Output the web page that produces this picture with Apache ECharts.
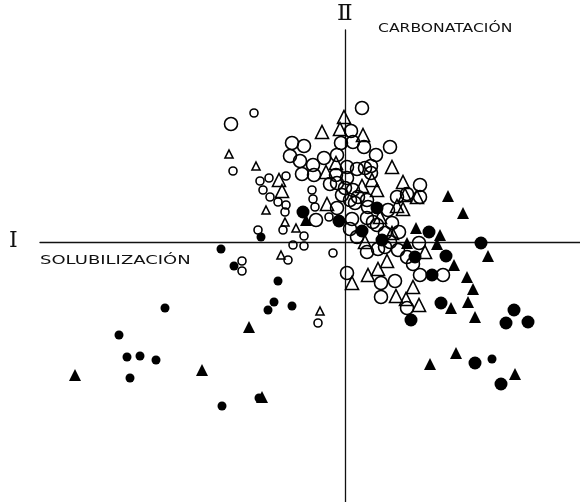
<!DOCTYPE html>
<html>
<head>
<meta charset="utf-8">
<script src="https://cdn.jsdelivr.net/npm/echarts@6/dist/echarts.min.js"></script>
<style>
  html, body { margin: 0; padding: 0; background: #fff; }
  #chart { width: 580px; height: 502px; }
</style>
</head>
<body>
<div id="chart"></div>
<script>
// factor scores, axis I (x) vs axis II (y)
var openCircleLarge = [
  [-114,118],[-53,99],[-41,96],[-55,86],[-45,81],[-32,77],[-21,84],[-43,68],[-31,67],[-9,67],
  [-15,58],[-4,99],[-8,87],[-29,22],[-8,34],[-3,47],[17,134],[6,111],[8,100],[19,95],
  [31,87],[45,95],[2,75],[12,73],[20,74],[26,76],[26,69],[2,64],[75,57],[-8,59],
  [0,54],[8,52],[13,45],[22,42],[5,42],[62,48],[75,45],[52,45],[10,39],[23,35],
  [43,32],[22,24],[32,17],[47,19],[54,10],[40,9],[7,23],[28,20],[5,13],[12,5],
  [22,-10],[33,-7],[40,-5],[53,-8],[62,-15],[68,-22],[45,0],[74,-1],[2,-31],[36,-41],
  [50,-39],[36,-55],[62,-66],[75,-33],[98,-33]
];
var openCircleSmall = [
  [-91,129],[-112,71],[-85,61],[-76,64],[-59,66],[-82,52],[-75,45],[-67,40],[-59,37],[-60,30],
  [-62,12],[-33,52],[-32,43],[-30,35],[-16,25],[-41,6],[-52,-3],[-41,-4],[-87,12],[-12,-11],
  [-57,-18],[-103,-19],[-103,-29],[-27,-81]
];
var openTriangleLarge = [
  [-23,110],[-1,125],[-5,113],[-9,79],[-19,70],[-66,62],[-63,51],[-18,38],[18,107],[47,75],
  [27,62],[58,60],[17,56],[32,52],[60,47],[72,45],[52,36],[35,25],[47,9],[20,0],
  [80,-10],[42,-19],[33,-27],[23,-33],[7,-41],[68,-45],[51,-54],[61,-57],[74,-63],[58,33]
];
var openTriangleSmall = [
  [-116,88],[-89,76],[-79,32],[-60,20],[-49,14],[-64,-13],[-25,-69]
];
var filledCircleLarge = [
  [-42,30],[-6,21],[32,34],[17,11],[37,2],[84,10],[101,-14],[70,-15],[87,-33],[136,-1],
  [66,-78],[96,-61],[161,-81],[183,-80],[169,-68],[130,-121],[156,-142]
];
var filledCircleSmall = [
  [-84,5],[-124,-7],[-111,-24],[-67,-39],[-71,-60],[-77,-68],[-53,-64],[-180,-66],[-226,-93],[-218,-115],
  [-205,-114],[-189,-118],[-215,-136],[-123,-164],[-86,-156],[147,-117]
];
var filledTriangle = [
  [-39,22],[62,-1],[71,14],[95,7],[92,-2],[103,46],[118,29],[143,-14],[109,-23],[122,-35],
  [128,-47],[123,-60],[106,-66],[130,-75],[85,-122],[111,-111],[170,-132],[-96,-85],[-270,-133],[-143,-128],
  [-83,-155]
];

var chart = echarts.init(document.getElementById('chart'));

function marks(data, symbol, size, filled) {
  return {
    type: 'scatter',
    data: data,
    symbol: symbol,
    symbolSize: size,
    silent: true,
    itemStyle: {
      color: filled ? '#000' : 'rgba(255,255,255,0)',
      borderColor: '#000',
      borderWidth: filled ? 0 : 1.6,
      opacity: 1
    }
  };
}

var option = {
  backgroundColor: '#fff',
  animation: false,
  grid: { left: 40, right: 0, top: 30, bottom: 0 },
  xAxis: {
    type: 'value', min: -305, max: 235,
    axisLine: { onZero: true, lineStyle: { color: '#111', width: 1.3 } },
    axisTick: { show: false }, axisLabel: { show: false }, splitLine: { show: false }
  },
  yAxis: {
    type: 'value', min: -260, max: 212,
    axisLine: { onZero: true, lineStyle: { color: '#111', width: 1.3 } },
    axisTick: { show: false }, axisLabel: { show: false }, splitLine: { show: false }
  },
  graphic: [
    { type: 'text', left: 337, top: 3,
      style: { text: 'Ⅱ', font: '23px "DejaVu Serif"', fill: '#111' } },
    { type: 'text', left: 378, top: 23,
      style: { text: 'CARBONATACIÓN', font: '12px "DejaVu Sans"', fill: '#111' }, scaleX: 1.3 },
    { type: 'text', left: 9, top: 230,
      style: { text: 'I', font: '22px "DejaVu Serif"', fill: '#111' } },
    { type: 'text', left: 40, top: 255,
      style: { text: 'SOLUBILIZACIÓN', font: '12px "DejaVu Sans"', fill: '#111' }, scaleX: 1.5 }
  ],
  series: [
    marks(filledCircleLarge, 'circle', 13, true),
    marks(filledCircleSmall, 'circle', 9, true),
    marks(filledTriangle, 'triangle', 12, true),
    marks(openCircleLarge, 'circle', 13, false),
    marks(openCircleSmall, 'circle', 8, false),
    marks(openTriangleLarge, 'triangle', 13, false),
    marks(openTriangleSmall, 'triangle', 8, false)
  ]
};

chart.setOption(option);
</script>
</body>
</html>
